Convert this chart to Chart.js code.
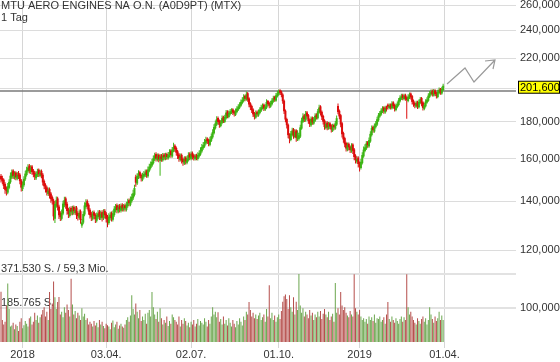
<!DOCTYPE html>
<html>
<head>
<meta charset="utf-8">
<script src="https://cdn.jsdelivr.net/npm/chart.js@4.4.0/dist/chart.umd.min.js"></script>
<style>
  html, body { margin: 0; padding: 0; background: #fff; }
  #wrap { width: 560px; height: 362px; }
</style>
</head>
<body>
<div id="wrap"><canvas id="chart" width="560" height="362"></canvas></div>
<script>
// ---------- Données (cours en EUR, volumes en milliers de titres) ----------
const title = "MTU AERO ENGINES NA O.N. (A0D9PT) (MTX)";
const period = "1 Tag";

const opens = [
  151.7,150.7,149.9,147.9,146.1,143.9,146.1,148.7,150.9,154.3,
  150.7,153.3,150.3,153.1,152.3,149.5,145.5,147.3,150.1,152.1,
  153.9,156.7,153.5,156.3,154.3,153.3,150.5,151.9,154.7,151.7,
  154.1,152.3,149.3,147.5,146.3,143.3,145.5,143.5,141.9,140.3,
  132.5,138.1,141.3,137.7,134.9,132.5,134.7,138.3,141.3,138.9,
  136.5,133.7,137.1,134.7,137.5,134.9,137.3,134.9,132.9,135.7,
  129.7,130.9,134.3,137.5,140.1,138.5,136.3,134.7,132.5,135.3,
  134.1,131.7,133.1,135.5,132.7,135.3,132.7,135.9,134.7,133.3,
  130.7,132.7,134.9,132.1,134.1,136.1,138.3,135.5,138.1,135.9,
  138.5,136.3,138.3,136.3,137.9,140.5,138.5,140.1,141.3,142.9,
  151.3,148.1,150.9,153.5,152.1,149.9,151.3,151.9,154.1,151.5,
  154.1,155.5,156.7,157.9,159.7,162.5,159.5,162.1,159.1,161.9,
  159.3,162.3,160.1,162.5,160.3,161.5,164.3,161.3,164.1,166.9,
  165.7,163.9,162.3,159.5,162.1,160.1,157.7,160.7,158.1,159.5,
  162.7,160.1,163.1,161.9,159.9,162.0,160.0,161.3,162.3,163.9,
  165.5,166.5,168.1,170.7,169.9,167.3,169.5,171.3,173.5,176.3,
  178.3,182.1,180.5,177.5,179.3,182.7,179.9,181.9,185.9,182.7,
  184.3,185.3,187.1,185.9,183.9,185.5,186.9,188.1,189.3,190.9,
  192.1,195.3,192.9,196.9,193.7,190.7,189.1,187.1,184.9,182.3,
  185.7,183.5,184.9,186.3,187.7,189.9,186.9,188.1,192.1,190.9,
  188.7,190.1,191.7,194.5,192.3,194.9,196.1,198.7,197.9,196.1,
  192.3,186.3,181.5,178.3,172.7,169.9,172.7,175.7,171.5,175.1,
  170.3,170.5,171.7,176.1,179.9,183.7,180.7,185.3,183.7,181.1,
  177.9,182.3,178.9,180.5,184.1,181.9,185.3,188.9,185.7,183.3,
  180.7,176.3,179.5,176.1,179.1,177.9,174.9,178.1,176.1,178.3,
  189.1,186.3,183.7,179.1,173.7,170.9,168.3,164.7,167.9,166.3,
  163.9,167.5,164.9,161.7,158.7,160.7,158.2,155.5,157.9,161.3,
  164.1,165.3,168.7,166.5,169.1,172.5,177.1,174.5,176.9,178.3,
  180.7,182.9,184.1,185.7,188.3,185.3,188.5,189.9,187.9,189.9,
  187.7,191.3,189.7,186.7,188.5,189.7,191.9,193.5,195.7,193.3,
  195.9,194.3,192.1,194.1,196.7,195.1,192.3,190.9,188.7,191.5,
  188.3,190.9,193.9,191.3,187.3,188.9,191.1,192.3,194.7,196.1,
  198.3,195.5,198.7,197.1,194.5,196.9,199.7,196.7,198.9
];
const highs = [
  152.6,151.8,150.5,148.7,146.7,148.3,150.1,153.3,154.8,154.9,
  153.9,153.9,153.6,154.1,153.0,150.2,149.0,151.5,154.2,156.1,
  157.4,157.5,156.9,157.0,155.0,154.1,153.9,155.2,155.3,154.7,
  154.8,153.1,150.0,148.2,147.0,146.2,146.2,144.2,142.6,141.1,
  140.0,142.1,142.0,138.5,135.7,136.4,140.3,142.0,142.0,139.7,
  137.2,137.6,137.8,138.1,138.2,137.9,138.0,135.7,136.4,136.4,
  132.4,135.7,139.6,140.9,140.8,139.2,137.0,135.5,135.9,136.0,
  134.8,135.2,136.1,136.2,136.0,136.1,136.5,136.6,135.4,134.1,
  134.8,135.5,135.6,136.0,138.0,138.8,139.0,138.6,138.8,139.0,
  139.2,138.8,139.0,139.8,141.1,141.2,142.2,143.4,145.2,147.5,
  152.3,153.0,154.4,154.2,152.8,153.2,154.0,154.8,154.8,156.2,
  157.6,158.8,160.0,161.8,163.2,163.4,162.8,162.8,162.6,162.6,
  163.0,163.0,163.2,163.2,163.6,165.0,165.0,166.2,168.4,167.6,
  166.4,164.6,163.0,162.8,162.8,160.8,161.4,161.4,161.6,163.4,
  163.4,163.8,163.8,162.6,162.6,162.7,163.4,164.4,166.0,167.8,
  168.8,170.4,171.6,171.4,170.6,171.6,173.4,175.8,178.6,180.6,
  183.1,183.0,181.2,181.0,183.6,183.4,184.0,186.8,186.6,186.4,
  187.4,187.8,187.8,186.6,187.6,189.0,190.2,191.4,193.0,194.4,
  196.2,196.0,198.0,197.6,194.4,191.4,189.8,187.8,185.6,186.4,
  186.4,187.0,188.4,189.8,190.6,190.6,190.2,193.2,192.8,191.6,
  192.2,193.8,195.4,195.4,197.0,198.4,199.2,199.4,198.6,196.8,
  193.0,187.0,182.2,179.0,173.6,174.8,176.6,176.4,175.8,175.8,
  175.2,173.8,178.2,182.2,184.8,184.4,186.2,186.2,184.4,181.8,
  183.0,183.0,182.6,184.8,184.8,187.4,189.8,189.6,186.4,184.0,
  181.4,180.2,180.2,179.8,179.8,178.6,178.8,178.8,180.4,183.6,
  190.6,187.0,184.4,179.8,174.4,171.6,169.0,168.6,168.6,167.0,
  168.2,168.2,165.6,162.4,161.4,161.4,158.8,160.0,163.4,166.4,
  167.6,169.4,169.4,171.2,174.6,177.8,177.8,179.0,180.4,182.8,
  185.0,186.2,187.8,189.0,189.0,189.2,189.2,190.6,190.6,190.6,
  192.0,192.0,190.4,190.6,191.8,194.0,195.6,196.6,196.6,196.6,
  196.6,195.0,196.2,197.4,197.4,195.8,193.0,191.6,192.2,192.2,
  193.0,194.6,194.6,192.0,191.0,193.2,194.4,196.8,198.2,199.2,
  199.2,199.6,199.4,197.8,199.0,200.4,200.2,201.0,202.8
];
const lows = [
  148.6,147.8,145.6,143.4,142.6,143.2,145.4,148.0,150.2,150.2,
  150.0,149.6,149.6,150.2,147.8,144.4,144.6,146.6,149.4,151.4,
  153.2,152.8,152.6,152.2,151.0,149.8,149.8,151.2,151.2,151.0,
  150.6,147.2,145.4,144.0,142.6,142.4,141.2,139.4,138.6,131.8,
  130.8,137.2,136.0,132.4,131.6,131.8,134.0,137.4,136.8,134.2,
  132.8,133.0,134.0,134.0,134.2,134.2,132.4,131.8,132.2,130.4,
  128.8,130.2,133.6,136.8,136.4,134.2,132.6,131.6,131.8,132.2,
  130.8,131.0,132.4,132.0,132.0,131.4,132.0,132.6,131.0,129.0,
  130.0,131.8,131.4,131.4,133.4,135.2,134.8,134.8,135.2,135.2,
  135.6,135.6,135.6,135.6,137.2,137.8,137.8,139.4,140.6,142.2,
  146.6,147.4,150.2,150.4,149.0,149.2,150.4,151.2,150.8,150.8,
  153.4,154.8,156.0,157.2,159.0,158.8,158.8,158.4,151.8,158.6,
  158.6,159.4,159.4,159.6,159.6,160.8,160.6,160.6,163.4,163.6,
  161.8,160.0,158.6,158.8,157.8,156.6,157.0,157.2,157.4,158.8,
  159.4,159.4,159.8,159.2,159.2,159.4,159.2,160.6,161.6,163.2,
  164.8,165.8,167.4,167.8,166.6,166.6,168.8,170.6,172.8,175.6,
  177.6,178.4,176.6,176.8,178.6,179.2,179.2,181.2,182.0,182.0,
  183.6,184.4,183.8,183.0,183.2,184.8,186.2,187.4,188.6,190.2,
  191.4,192.0,192.2,191.6,188.4,186.8,185.0,182.6,181.2,181.6,
  182.8,182.8,184.2,185.6,187.0,186.2,186.2,187.4,188.8,187.8,
  188.0,189.4,191.0,191.6,191.6,194.2,195.4,195.8,194.4,190.4,
  184.4,179.6,176.2,170.8,168.2,169.2,171.8,170.6,170.8,169.0,
  169.4,169.6,171.0,175.4,179.2,179.8,180.0,181.6,178.8,177.0,
  177.2,178.2,178.2,179.8,181.2,181.2,184.6,183.6,181.0,178.4,
  175.4,175.6,175.2,175.4,175.8,174.0,174.2,175.2,175.4,177.6,
  184.2,181.4,176.8,171.2,168.4,166.0,163.8,164.0,164.4,163.0,
  163.2,162.6,159.4,157.8,157.8,155.8,153.8,154.8,157.2,160.6,
  163.4,164.6,165.8,165.8,168.4,171.8,173.8,173.8,176.2,177.6,
  180.0,182.2,183.4,185.0,184.6,184.6,185.8,187.0,187.2,187.0,
  187.0,187.6,185.8,186.0,187.8,189.0,191.2,192.8,192.6,192.6,
  192.2,181.6,191.4,193.4,193.0,190.0,188.6,187.8,188.0,187.4,
  187.6,190.2,189.0,186.4,186.6,188.2,190.4,191.6,194.0,195.4,
  194.8,194.8,195.0,193.6,193.8,196.2,196.0,196.0,198.2
];
const closes = [
  150.0,149.2,147.0,145.2,144.6,146.8,148.9,151.8,153.5,151.6,
  152.4,151.0,152.2,151.5,149.2,146.2,147.5,150.3,152.8,154.6,
  155.8,154.2,155.5,153.6,152.4,151.3,152.6,153.8,152.5,153.2,
  152.0,148.6,146.8,145.5,144.0,144.8,142.6,141.0,140.2,133.5,
  138.8,140.5,137.5,134.0,133.2,135.0,139.0,140.5,138.2,135.8,
  134.5,136.2,135.5,136.8,135.7,136.4,134.0,133.6,135.0,132.0,
  131.0,134.5,138.2,139.4,137.8,135.6,134.0,133.2,134.6,133.8,
  132.4,133.9,134.8,133.5,134.6,133.0,135.2,134.0,132.5,131.0,
  133.4,134.2,132.8,134.7,136.8,137.5,136.2,137.4,136.6,137.8,
  136.9,137.6,137.0,138.6,139.8,139.2,140.8,142.0,143.6,146.0,
  148.5,151.6,152.8,151.8,150.6,151.9,152.6,153.4,152.2,154.8,
  156.2,157.4,158.6,160.4,161.8,160.2,161.4,159.8,161.2,160.0,
  161.6,160.8,161.8,161.0,162.2,163.5,162.0,164.8,166.2,165.0,
  163.2,161.5,160.2,161.4,159.3,158.4,160.0,158.8,160.2,162.0,
  160.8,162.4,161.2,160.6,161.3,160.7,162.0,163.0,164.6,166.2,
  167.2,168.8,170.0,169.2,168.0,170.2,172.0,174.2,177.0,179.0,
  181.4,179.8,178.2,179.5,182.0,180.6,182.6,185.2,183.4,185.0,
  186.0,186.4,185.2,184.6,186.2,187.6,188.8,190.0,191.6,192.8,
  194.6,193.5,196.2,193.0,190.0,188.4,186.5,184.2,183.0,185.0,
  184.2,185.6,187.0,188.4,189.2,187.6,188.8,191.5,190.2,189.3,
  190.8,192.4,193.8,193.0,195.6,196.8,198.0,197.2,195.8,192.0,
  186.0,181.2,178.0,172.5,170.6,173.4,175.0,172.2,174.4,171.0,
  173.8,172.4,176.8,180.6,183.0,181.4,184.6,183.0,180.4,178.6,
  181.6,179.6,181.2,183.4,182.6,186.0,188.2,185.0,182.6,180.0,
  177.0,178.8,176.8,178.4,177.2,175.6,177.4,176.8,179.0,182.0,
  185.6,183.0,178.4,173.0,170.2,167.6,165.4,167.2,166.0,164.6,
  166.8,164.2,161.0,159.4,160.0,157.5,156.2,158.6,162.0,164.8,
  166.0,168.0,167.2,169.8,173.2,176.4,175.2,177.6,179.0,181.4,
  183.6,184.8,186.4,187.6,186.0,187.8,187.2,188.6,189.2,188.4,
  190.6,189.0,187.4,189.2,190.4,192.6,194.2,195.0,194.0,195.2,
  193.6,192.8,194.8,196.0,194.4,191.6,190.2,189.4,190.8,189.0,
  191.6,193.2,190.6,188.0,189.6,191.8,193.0,195.4,196.8,197.6,
  196.2,198.0,196.4,195.2,197.6,199.0,197.4,199.6,201.6
];
const volumes = [
  275,120,95,110,200,320,180,85,90,105,
  70,95,88,60,110,130,75,92,115,100,
  85,130,140,95,110,160,120,145,105,135,
  150,175,190,140,165,120,273,180,210,330,
  245,180,218,246,150,165,135,190,160,205,
  175,140,346,205,150,170,130,160,145,120,
  185,140,155,120,130,95,110,100,85,115,
  90,105,80,120,95,110,88,75,100,92,
  85,70,105,118,80,95,110,72,90,100,
  85,78,95,120,135,110,145,255,180,150,
  210,165,130,175,115,140,120,155,100,160,
  175,140,273,190,150,125,165,110,185,130,
  95,120,105,140,88,115,100,150,135,120,
  110,95,140,85,120,100,130,115,90,105,
  80,110,95,120,85,100,125,90,115,105,
  95,130,110,85,120,100,140,190,150,165,
  135,163,110,125,95,140,100,120,90,130,
  105,85,120,100,80,115,95,130,110,90,
  140,120,165,150,218,175,140,160,130,150,
  125,145,160,120,135,150,110,180,140,310,
  130,160,120,145,110,135,150,125,170,220,
  250,260,235,180,255,190,165,245,150,220,
  175,371.53,200,160,185,140,165,150,130,175,
  145,160,120,150,135,165,140,170,125,155,
  180,150,135,165,120,140,155,110,322,160,
  185,150,273,200,175,190,160,145,135,170,
  150,140,370,185,165,150,175,140,120,130,
  110,125,100,140,120,135,115,150,105,130,
  125,140,110,120,135,100,150,218,125,110,
  140,120,105,130,115,100,125,140,110,135,
  120,370,190,150,165,140,120,105,95,130,
  115,100,125,140,110,130,95,120,190,150,
  125,105,140,115,130,165,120,145,120
];

const tickIdx = [16, 78, 141, 206, 266, 329];
const tickLabels = ["2018", "03.04.", "02.07.", "01.10.", "2019", "01.04."];
const priceTicks = [100, 120, 140, 160, 180, 200, 220, 240, 260];
const volMarks = [185.765, 371.53];
const volLabels = ["185.765 S.", "371.530 S. / 59,3 Mio."];
const resistance = 198.3;

// ---------- Mise en page ----------
const X_MIN = -0.75, X_MAX = 382.05;
const Y_MIN = 89.83, Y_MAX = 264.2;
const VOL_MAX = 371.53 * 342 / 68;
const FAMILY = "Arial, 'Liberation Sans', sans-serif";
const FONT = "11px " + FAMILY;
const UP = "#3cb414", DOWN = "#dc0c0c";
const VUP = "#6ba64e", VDOWN = "#b54e4b";
const fmt = (v) => v.toFixed(3).replace(".", ",");

const idx = closes.map((_, i) => i);
const up = closes.map((c, i) => c >= opens[i]);

// ---------- Dessins hors données ----------
const overlay = {
  id: "overlay",
  beforeDatasetsDraw(chart) {
    const { ctx, chartArea: a, scales } = chart;
    ctx.save();
    ctx.strokeStyle = "#e2e2e2";
    ctx.lineWidth = 2;
    volMarks.forEach((v) => {
      const y = Math.round(scales.yv.getPixelForValue(v));
      ctx.beginPath();
      ctx.moveTo(a.left, y);
      ctx.lineTo(a.right, y);
      ctx.stroke();
    });
    ctx.fillStyle = "#333";
    ctx.font = FONT;
    volMarks.forEach((v, k) => {
      ctx.fillText(volLabels[k], 1, scales.yv.getPixelForValue(v) - 2.5);
    });
    ctx.restore();
  },
  afterDraw(chart) {
    const { ctx, scales } = chart;
    ctx.save();
    ctx.font = FONT;
    ctx.fillStyle = "#333";
    ctx.fillText(title, 1, 9);
    ctx.fillText(period, 1, 20.5);

    // flèche
    ctx.strokeStyle = "#9a9a9a";
    ctx.lineWidth = 1.2;
    ctx.beginPath();
    ctx.moveTo(447, 84); ctx.lineTo(465, 68); ctx.lineTo(474, 82); ctx.lineTo(495, 60);
    ctx.moveTo(485, 61); ctx.lineTo(495, 60); ctx.lineTo(493, 69);
    ctx.stroke();

    // dernier cours
    const last = closes[closes.length - 1];
    const y = scales.y.getPixelForValue(last);
    ctx.fillStyle = "#ffff00";
    ctx.fillRect(518, y - 4.5, 42, 12);
    ctx.strokeStyle = "#000";
    ctx.lineWidth = 1;
    ctx.strokeRect(518.5, y - 4.5, 41, 12);
    ctx.fillStyle = "#000";
    ctx.textBaseline = "middle";
    ctx.fillText(fmt(last), 520, y + 2);
    ctx.restore();
  }
};

new Chart(document.getElementById("chart"), {
  type: "bar",
  data: {
    datasets: [
      {
        type: "line",
        data: [{ x: X_MIN, y: resistance }, { x: X_MAX, y: resistance }],
        borderColor: "#7a7a7a",
        borderWidth: 1.5,
        pointRadius: 0,
        yAxisID: "y",
        order: 3,
      },
      {
        data: idx.map((i) => ({ x: i, y: volumes[i] })),
        backgroundColor: up.map((u) => (u ? VUP : VDOWN)),
        barThickness: 1,
        yAxisID: "yv",
        order: 2,
      },
      {
        data: idx.map((i) => ({ x: i, y: [lows[i], highs[i]] })),
        backgroundColor: up.map((u) => (u ? UP : DOWN)),
        barThickness: 1,
        yAxisID: "y",
        order: 1,
      },
      {
        data: idx.map((i) => ({ x: i, y: [opens[i], closes[i]] })),
        backgroundColor: up.map((u) => (u ? UP : DOWN)),
        barThickness: 2,
        minBarLength: 1,
        yAxisID: "y",
        order: 0,
      },
    ],
  },
  options: {
    responsive: false,
    animation: false,
    devicePixelRatio: 1,
    layout: { padding: 0 },
    datasets: { bar: { grouped: false, inflateAmount: 0, borderWidth: 0 } },
    plugins: { legend: { display: false }, tooltip: { enabled: false } },
    scales: {
      x: {
        type: "linear",
        min: X_MIN,
        max: X_MAX,
        offset: false,
        grid: { offset: false, color: "#d6d6d6", drawTicks: true, tickLength: 6 },
        border: { display: false },
        ticks: {
          autoSkip: false,
          maxRotation: 0,
          padding: 0,
          color: "#333",
          font: { family: FAMILY, size: 11 },
          callback: (v) => tickLabels[tickIdx.indexOf(v)] ?? "",
        },
        afterBuildTicks: (s) => { s.ticks = tickIdx.map((v) => ({ value: v })); },
        afterFit: (s) => { s.height = 20; s.paddingLeft = 0; s.paddingRight = 0; },
      },
      y: {
        type: "logarithmic",
        position: "right",
        min: Y_MIN,
        max: Y_MAX,
        grid: { color: "#dcdcdc", drawTicks: false },
        border: { display: false },
        ticks: {
          padding: 4,
          color: "#333",
          font: { family: FAMILY, size: 11 },
          callback: (v) => (v === 200 ? "" : fmt(v)),
        },
        afterBuildTicks: (s) => { s.ticks = priceTicks.map((v) => ({ value: v })); },
        afterFit: (s) => { s.width = 44; s.paddingTop = 0; s.paddingBottom = 0; },
      },
      yv: {
        type: "linear",
        display: false,
        min: 0,
        max: VOL_MAX,
      },
    },
  },
  plugins: [overlay],
});
</script>
</body>
</html>
